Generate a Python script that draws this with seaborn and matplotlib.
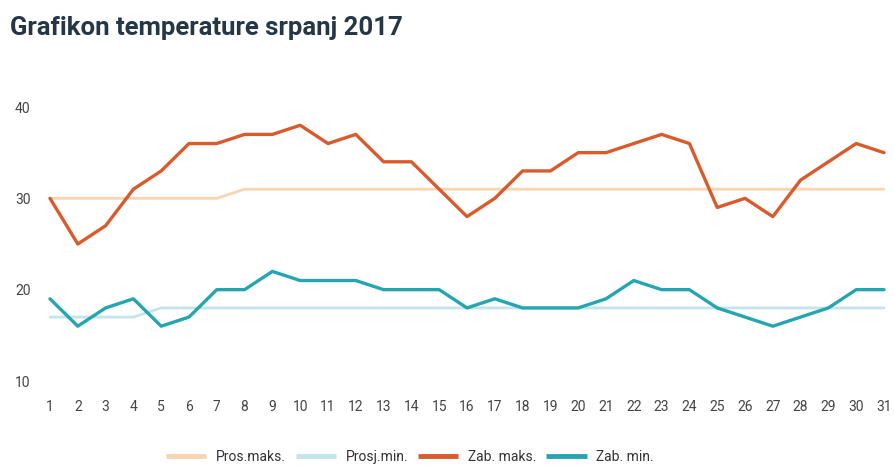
import matplotlib.pyplot as plt
import seaborn as sns
import pandas as pd

days = list(range(1, 32))
pros_maks = [30] * 7 + [31] * 24
prosj_min = [17] * 4 + [18] * 27
zab_maks = [30, 25, 27, 31, 33, 36, 36, 37, 37, 38, 36, 37, 34, 34, 31, 28,
            30, 33, 33, 35, 35, 36, 37, 36, 29, 30, 28, 32, 34, 36, 35]
zab_min = [19, 16, 18, 19, 16, 17, 20, 20, 22, 21, 21, 21, 20, 20, 20, 18,
           19, 18, 18, 18, 19, 21, 20, 20, 18, 17, 16, 17, 18, 20, 20]

series_names = ['Pros.maks.', 'Prosj.min.', 'Zab. maks.', 'Zab. min.']
colors = ['#f9d4b0', '#c3e4ec', '#d95b2c', '#25a5b0']
widths = [2.0, 2.0, 2.4, 2.4]

df = pd.DataFrame({'dan': days,
                   series_names[0]: pros_maks,
                   series_names[1]: prosj_min,
                   series_names[2]: zab_maks,
                   series_names[3]: zab_min})
long_df = df.melt(id_vars='dan', var_name='serija', value_name='temp')

sns.set_style('white')
plt.rcParams['font.family'] = ['Roboto', 'DejaVu Sans']

fig = plt.figure(figsize=(8.95, 4.69), dpi=100)
ax = fig.add_axes([50 / 895, 1 - 381 / 469, 834 / 895, 274 / 469])

sns.lineplot(data=long_df, x='dan', y='temp', hue='serija',
             hue_order=series_names, palette=colors, ax=ax, legend=False)
for line, w in zip(ax.get_lines(), widths):
    line.set_linewidth(w)
    line.set_clip_on(False)
    line.set_solid_joinstyle('round')

ax.set_xlim(1, 31)
ax.set_ylim(10, 40)
ax.set_xticks(days)
ax.set_yticks([10, 20, 30, 40])
ax.tick_params(axis='both', length=0, labelsize=10, labelcolor='#444444')
ax.tick_params(axis='x', pad=14)
ax.tick_params(axis='y', pad=14)
ax.set_xlabel('')
ax.set_ylabel('')
for s in ax.spines.values():
    s.set_visible(False)

handles = [plt.Line2D([], [], color=c, lw=3.5, solid_capstyle='butt') for c in colors]
fig.legend(handles, series_names, loc='center', bbox_to_anchor=(410 / 895, 1 - 457 / 469),
           ncol=4, frameon=False, fontsize=10, handlelength=2.9, handletextpad=0.7,
           columnspacing=0.7, labelcolor='#333333')

fig.text(10 / 895, 1 - 28 / 469, 'Grafikon temperature srpanj 2017', fontsize=18.5,
         fontweight='bold', color='#253746', va='center', ha='left')

fig.savefig('out.png', dpi=100)
